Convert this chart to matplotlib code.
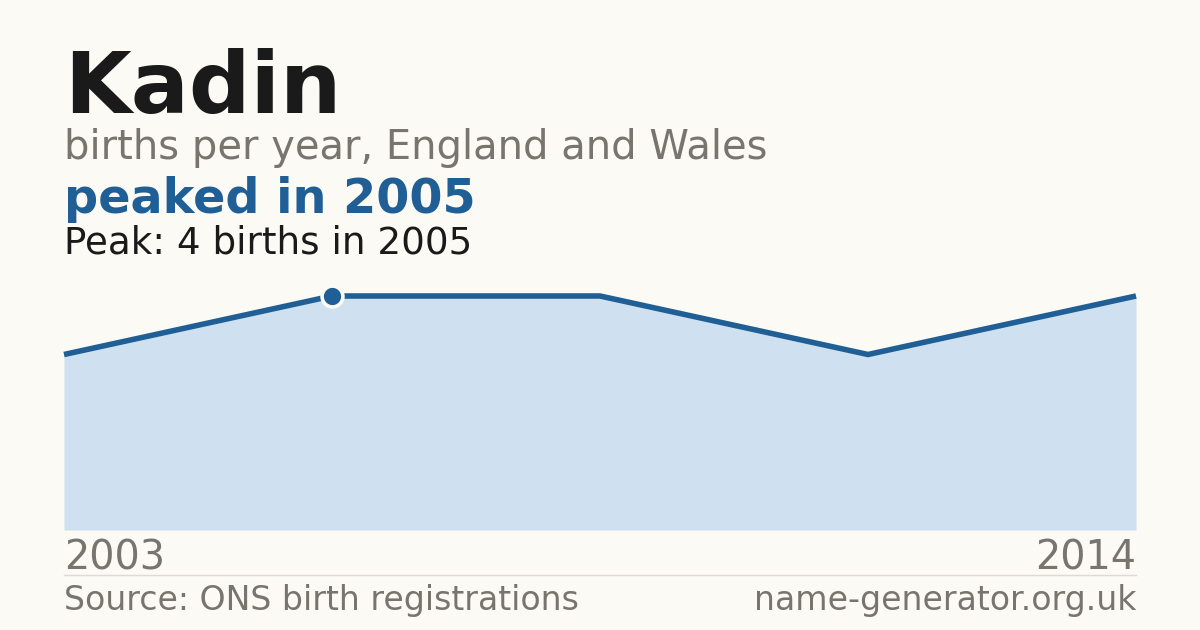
import matplotlib
matplotlib.use("Agg")
import matplotlib.pyplot as plt

# Data
years = [2003, 2005, 2008, 2011, 2014]
births = [3, 4, 4, 3, 4]
peak_year = 2005
peak_value = 4

title = "Kadin"
subtitle = "births per year, England and Wales"
headline = "peaked in 2005"
peak_text = "Peak: 4 births in 2005"
source = "Source: ONS birth registrations"
site = "name-generator.org.uk"

BG = "#fbfaf5"
BLUE = "#1f5f96"
FILL = "#cfe0f0"
GREY = "#78756f"
DARK = "#1a1a1a"

W, H = 1200, 630
fig = plt.figure(figsize=(W / 100, H / 100), dpi=100, facecolor=BG)
plt.rcParams['font.family'] = ['DejaVu Sans']

def fx(px):
    return px / W

def fy(py):
    return 1 - py / H

left, right, bottom, top = 64, 1136, 530, 296
ax = fig.add_axes([fx(left), fy(bottom), fx(right - left), (bottom - top) / H])
ax.set_facecolor(BG)
xs = list(range(len(years)))
ax.fill_between(xs, births, 0, color=FILL, linewidth=0, zorder=1)
ax.plot(xs, births, color=BLUE, linewidth=4.0, solid_capstyle='butt', zorder=2, clip_on=False)
pi = years.index(peak_year)
ax.plot([xs[pi]], [births[pi]], 'o', color=BLUE, markersize=15, markeredgecolor=BG,
        markeredgewidth=2.6, zorder=3, clip_on=False)
ax.set_xlim(xs[0], xs[-1])
ax.set_ylim(0, peak_value)
ax.axis('off')

fig.text(fx(64), fy(113), title, fontsize=62, fontweight='bold', color=DARK, va='baseline', ha='left')
fig.text(fx(64), fy(159), subtitle, fontsize=28.8, color=GREY, va='baseline', ha='left')
fig.text(fx(64), fy(213), headline, fontsize=34.4, fontweight='bold', color=BLUE, va='baseline', ha='left')
fig.text(fx(64), fy(253), peak_text, fontsize=26.8, color=DARK, va='baseline', ha='left')

fig.text(fx(64), fy(569), str(years[0]), fontsize=28.6, color=GREY, va='baseline', ha='left')
fig.text(fx(1136), fy(569), str(years[-1]), fontsize=28.6, color=GREY, va='baseline', ha='right')

fig.add_artist(plt.Line2D([fx(64), fx(1136)], [fy(574.5), fy(574.5)], color="#dedbd3", linewidth=1))

fig.text(fx(64), fy(610), source, fontsize=23.9, color=GREY, va='baseline', ha='left')
fig.text(fx(1136), fy(610), site, fontsize=23.9, color=GREY, va='baseline', ha='right')

fig.savefig("out.png", dpi=100, facecolor=BG)
